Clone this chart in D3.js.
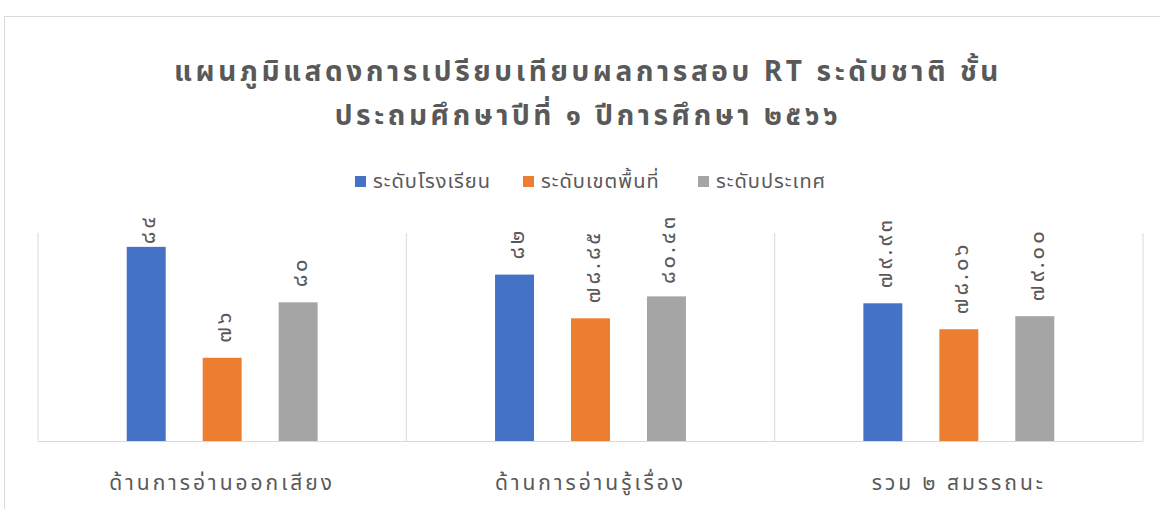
<!DOCTYPE html>
<html>
<head>
<meta charset="utf-8">
<script src="https://cdn.jsdelivr.net/npm/d3@7"></script>
<style>
    body { margin: 0; background: #fff; }
    text { font-family: "Noto Sans Thai", "Noto Sans", "DejaVu Sans", sans-serif; }
</style>
</head>
<body>
<div id="chart"></div>
<script>
// data
const categories = ["ด้านการอ่านออกเสียง", "ด้านการอ่านรู้เรื่อง", "รวม ๒ สมรรถนะ"];
const seriesNames = ["ระดับโรงเรียน", "ระดับเขตพื้นที่", "ระดับประเทศ"];
const schoolValues = [84, 82, 79.93];
const areaValues = [76, 78.85, 78.06];
const nationValues = [80, 80.43, 79.00];
const valueLabels = [
    ["๘๔", "๘๒", "๗๙.๙๓"],
    ["๗๖", "๗๘.๘๕", "๗๘.๐๖"],
    ["๘๐", "๘๐.๔๓", "๗๙.๐๐"]
];
const titleLines = ["แผนภูมิแสดงการเปรียบเทียบผลการสอบ RT ระดับชาติ ชั้น", "ประถมศึกษาปีที่ ๑ ปีการศึกษา ๒๕๖๖"];
const colors = ["#4472c4", "#ed7d31", "#a5a5a5"];

let allSeries = [schoolValues, areaValues, nationValues];

let width = 1160, height = 509;
let plot = {left: 38, right: 1143, top: 233, bottom: 441};

let svg = d3.select("#chart").append("svg")
    .attr("width", width)
    .attr("height", height);

// chart border
svg.append("rect")
    .attr("x", 4.5).attr("y", 16.5)
    .attr("width", 1170).attr("height", 510)
    .attr("fill", "none")
    .attr("stroke", "#d9d9d9");

// title
svg.selectAll(".title")
    .data(titleLines)
    .enter().append("text")
    .attr("class", "title")
    .attr("x", 588)
    .attr("y", (d, i) => 81 + i * 44)
    .attr("text-anchor", "middle")
    .attr("font-size", 28)
    .attr("font-weight", "bold")
    .attr("letter-spacing", 3.6)
    .attr("fill", "#595959")
    .text(d => d);

// scales
let x0 = d3.scaleBand()
    .domain(categories)
    .range([plot.left, plot.right]);

let x1 = d3.scaleBand()
    .domain(seriesNames)
    .range([0, x0.bandwidth()])
    .paddingInner(0.487)
    .paddingOuter(1.168);

let y = d3.scaleLinear()
    .domain([70, 85])
    .range([plot.bottom, plot.top]);

// separators between categories
let seps = categories.map(c => x0(c)).concat([plot.right]);
svg.selectAll(".sep")
    .data(seps)
    .enter().append("line")
    .attr("class", "sep")
    .attr("x1", d => d).attr("x2", d => d)
    .attr("y1", plot.top).attr("y2", plot.bottom)
    .attr("stroke", "#d9d9d9");

// bars
let groups = svg.selectAll(".series")
    .data(allSeries)
    .enter().append("g")
    .attr("class", "series")
    .attr("fill", (d, i) => colors[i]);

groups.each(function(vals, si) {
    d3.select(this).selectAll("rect")
        .data(vals)
        .enter().append("rect")
        .attr("x", (d, ci) => x0(categories[ci]) + x1(seriesNames[si]))
        .attr("width", x1.bandwidth())
        .attr("y", d => y(d))
        .attr("height", d => plot.bottom - y(d));
});

// x axis line
svg.append("line")
    .attr("x1", plot.left).attr("x2", plot.right)
    .attr("y1", plot.bottom + 0.5).attr("y2", plot.bottom + 0.5)
    .attr("stroke", "#d9d9d9");

// rotated value labels
allSeries.forEach((vals, si) => {
    vals.forEach((v, ci) => {
        let cx = x0(categories[ci]) + x1(seriesNames[si]) + x1.bandwidth() / 2;
        let t = svg.append("text")
            .attr("font-size", 22)
            .attr("letter-spacing", 3)
            .attr("fill", "#595959")
            .text(valueLabels[si][ci]);
        let len = t.node().getComputedTextLength();
        // keep label inside the chart top like Excel does
        let yy = Math.max(y(v) - 15, 214 + len);
        t.attr("transform", `translate(${cx + 9},${yy}) rotate(-90)`);
    });
});

// category labels
svg.selectAll(".cat")
    .data(categories)
    .enter().append("text")
    .attr("class", "cat")
    .attr("x", d => x0(d) + x0.bandwidth() / 2)
    .attr("y", 490)
    .attr("text-anchor", "middle")
    .attr("font-size", 21)
    .attr("letter-spacing", 3)
    .attr("fill", "#595959")
    .text(d => d);

// legend
let legendX = [355, 523, 698];
let legend = svg.selectAll(".legend")
    .data(seriesNames)
    .enter().append("g")
    .attr("class", "legend")
    .attr("transform", (d, i) => `translate(${legendX[i]},176)`);

legend.append("rect")
    .attr("width", 11).attr("height", 11)
    .attr("fill", (d, i) => colors[i]);

legend.append("text")
    .attr("x", 18)
    .attr("y", 12)
    .attr("font-size", 20)
    .attr("letter-spacing", 1)
    .attr("fill", "#595959")
    .text(d => d);
</script>
</body>
</html>
